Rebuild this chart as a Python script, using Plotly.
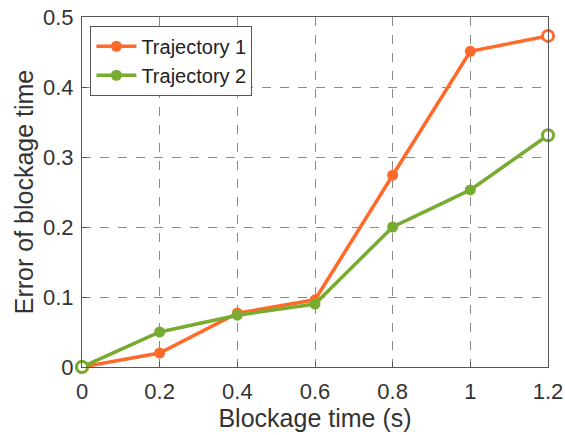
import plotly.graph_objects as go

blockage_time = [0, 0.2, 0.4, 0.6, 0.8, 1.0, 1.2]
traj1_error = [0.0, 0.020, 0.077, 0.096, 0.274, 0.451, 0.473]
traj2_error = [0.0, 0.050, 0.074, 0.090, 0.200, 0.253, 0.331]

x_ticks = [0, 0.2, 0.4, 0.6, 0.8, 1.0, 1.2]
x_tick_labels = ["0", "0.2", "0.4", "0.6", "0.8", "1", "1.2"]
y_ticks = [0, 0.1, 0.2, 0.3, 0.4, 0.5]
y_tick_labels = ["0", "0.1", "0.2", "0.3", "0.4", "0.5"]

ORANGE = "#FF6A2A"
GREEN = "#77AC30"
FONT = "Liberation Sans, Arial, sans-serif"
TEXT = "#333333"

fig = go.Figure()
for name, ys, col in [("Trajectory 1", traj1_error, ORANGE),
                      ("Trajectory 2", traj2_error, GREEN)]:
    fig.add_trace(go.Scatter(
        x=blockage_time, y=ys, name=name, mode="lines+markers",
        line=dict(color=col, width=3.5),
        marker=dict(size=11, color=col),
        cliponaxis=False,
    ))
    # the two end points sit on the axis box and show as rings
    ends = [0, len(ys) - 1]
    fig.add_trace(go.Scatter(
        x=[blockage_time[i] for i in ends], y=[ys[i] for i in ends],
        mode="markers", showlegend=False, hoverinfo="skip",
        marker=dict(size=11, color="white", line=dict(color=col, width=3)),
        cliponaxis=False,
    ))

axis_common = dict(
    showline=True, linecolor="#555555", linewidth=1, mirror=True,
    showgrid=True, gridcolor="#8a8a8a", griddash="dash", gridwidth=1,
    zeroline=False, ticks="inside", ticklen=5, tickcolor="#555555",
    tickfont=dict(family=FONT, size=22, color=TEXT),
    automargin=False,
)

fig.update_xaxes(
    range=[0, 1.2], tickvals=x_ticks, ticktext=x_tick_labels,
    ticklabelstandoff=5,
    title=dict(text="Blockage time (s)", font=dict(family=FONT, size=25, color=TEXT),
               standoff=2),
    **axis_common,
)
fig.update_yaxes(
    range=[0, 0.5], tickvals=y_ticks, ticktext=y_tick_labels,
    ticklabelstandoff=3,
    title=dict(text="Error of blockage time", font=dict(family=FONT, size=25, color=TEXT),
               standoff=2),
    **axis_common,
)

fig.update_layout(
    width=565, height=435,
    margin=dict(l=82, r=17, t=17, b=68),
    plot_bgcolor="white", paper_bgcolor="white",
    font=dict(family=FONT, color=TEXT),
    legend=dict(
        x=0.018, y=0.975, xanchor="left", yanchor="top",
        bgcolor="white", bordercolor="#555555", borderwidth=1,
        font=dict(family=FONT, size=20, color="#222222"),
        itemwidth=40, tracegroupgap=0,
    ),
    showlegend=True,
)

fig.write_html("out.html")
